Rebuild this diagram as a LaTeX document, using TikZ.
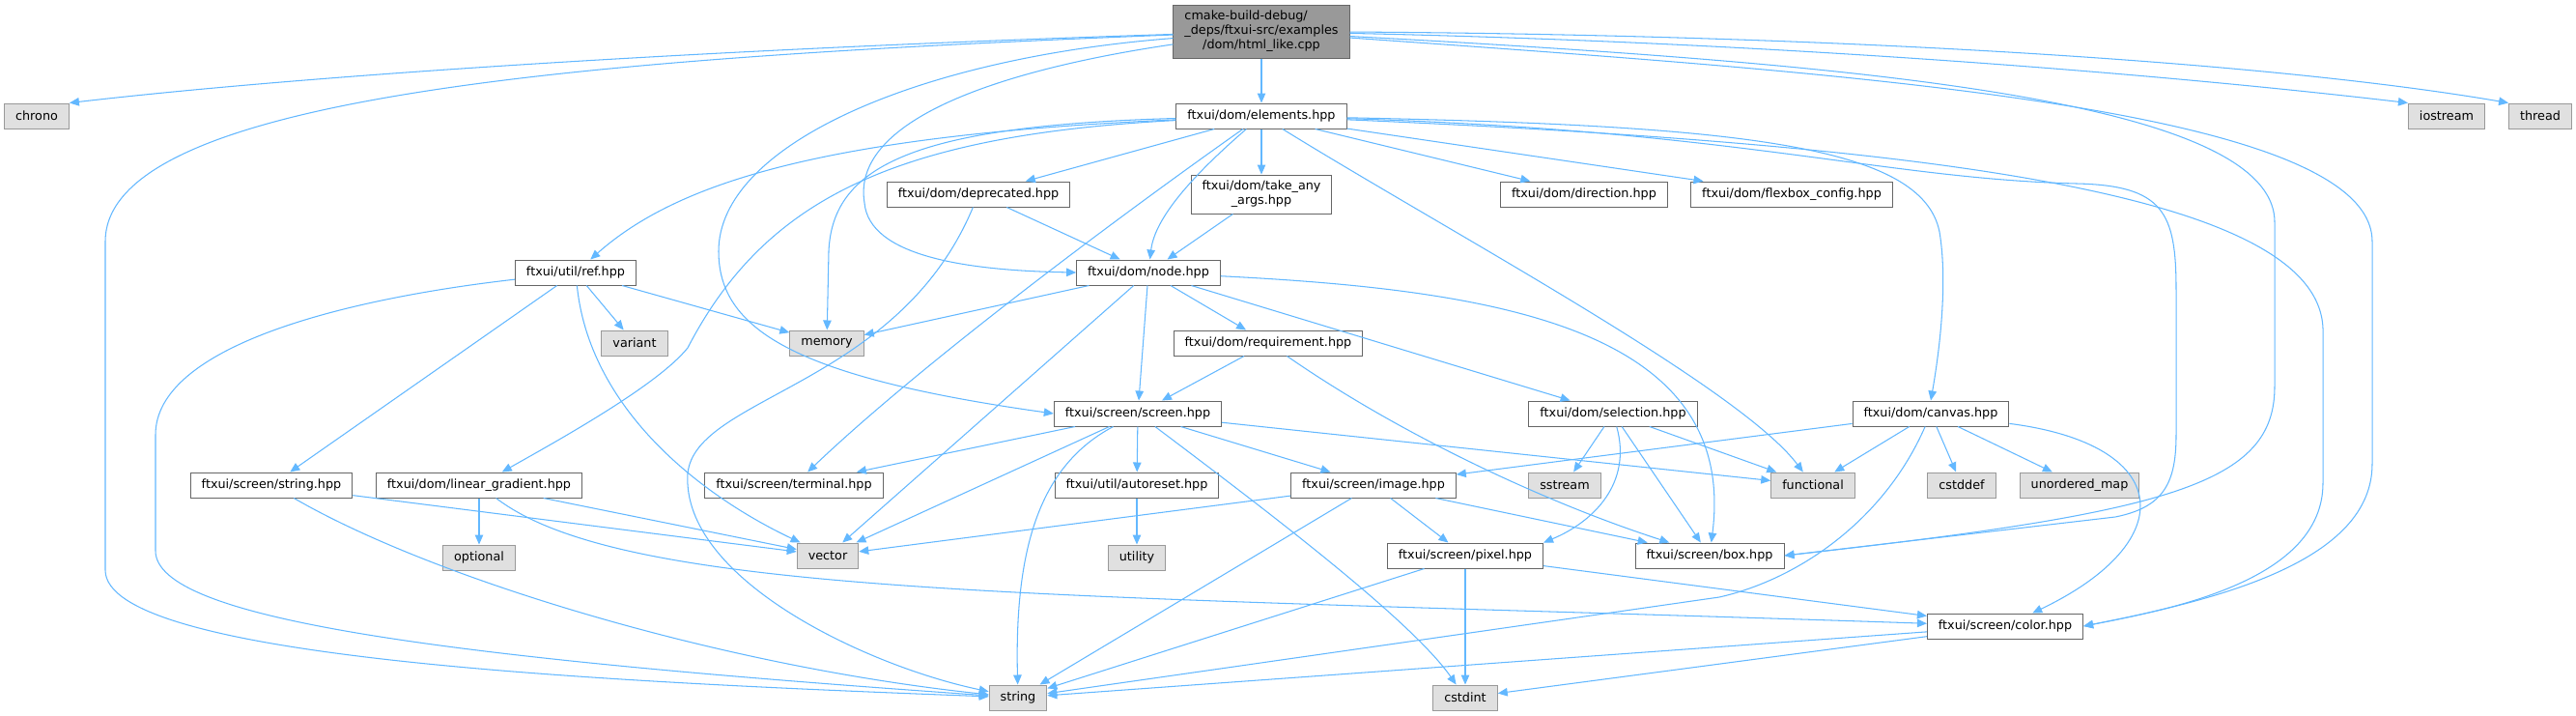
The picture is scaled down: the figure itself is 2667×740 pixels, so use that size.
\documentclass[tikz,border=0pt]{standalone}
\usepackage{fontspec}
\setmainfont{DejaVu Sans}
\usepackage{xcolor}
\usepackage{tikz}
\usetikzlibrary{positioning,arrows.meta}
\definecolor{edgeblue}{HTML}{63B8FF}
\definecolor{frame}{HTML}{666666}
\definecolor{sysline}{HTML}{999999}
\definecolor{sysfill}{HTML}{E0E0E0}
\definecolor{mainfill}{HTML}{999999}

\begin{document}
\begin{tikzpicture}[x=1pt,y=-1pt,font=\fontsize{12.77}{15}\selectfont,
inc/.style={draw=frame,line width=1pt,fill=white,align=center,minimum height=26pt,inner xsep=11.5pt,inner ysep=4pt},
sys/.style={inc,draw=sysline,fill=sysfill},
hdr/.style={inc,fill=mainfill,minimum height=55pt},
arr/.style={-{Triangle[length=10pt,width=8.5pt]},draw=edgeblue,line width=1.05pt}]
\path[use as bounding box,fill=white] (0,0) rectangle (2667,740);
\node[hdr] (main) at (1306,32.5) {\rlap{cmake-build-debug/}\phantom{\_deps/ftxui-src/examples}\\\_deps/ftxui-src/examples\\/dom/html\_like.cpp};
\node[sys] (chrono) at (38,120) {chrono};
\node[inc] (elements) at (1306,120) {ftxui/dom/elements.hpp};
\node[sys] (iostream) at (2533,120) {iostream};
\node[sys,right=24pt of iostream] (thread) {thread};
\node[inc] (deprecated) at (1013,201) {ftxui/dom/deprecated.hpp};
\node[inc,minimum height=40pt] (takeany) at (1306,201) {ftxui/dom/take\_any\\\_args.hpp};
\node[inc] (direction) at (1640,201) {ftxui/dom/direction.hpp};
\node[inc] (flexbox) at (1855,201) {ftxui/dom/flexbox\_config.hpp};
\node[inc] (refhpp) at (596,282) {ftxui/util/ref.hpp};
\node[inc] (nodehpp) at (1189,282) {ftxui/dom/node.hpp};
\node[sys] (variant) at (657,355) {variant};
\node[sys] (memory) at (856,355) {memory};
\node[inc] (requirement) at (1313,355) {ftxui/dom/requirement.hpp};
\node[inc] (screenhpp) at (1178,428) {ftxui/screen/screen.hpp};
\node[inc] (selection) at (1670,428) {ftxui/dom/selection.hpp};
\node[inc] (canvas) at (1999,428) {ftxui/dom/canvas.hpp};
\node[inc] (stringhpp) at (281,502) {ftxui/screen/string.hpp};
\node[inc] (gradient) at (496,502) {ftxui/dom/linear\_gradient.hpp};
\node[inc] (terminal) at (822,502) {ftxui/screen/terminal.hpp};
\node[inc] (autoreset) at (1177,502) {ftxui/util/autoreset.hpp};
\node[inc] (image) at (1422,502) {ftxui/screen/image.hpp};
\node[sys] (sstream) at (1620,502) {sstream};
\node[sys] (functional) at (1877,502) {functional};
\node[sys] (cstddef) at (2031,502) {cstddef};
\node[sys] (umap) at (2153,502) {unordered\_map};
\node[sys,below=48pt of gradient] (optional) {optional};
\node[sys] (vector) at (857,575) {vector};
\node[sys,below=48pt of autoreset] (utility) {utility};
\node[inc] (pixel) at (1517,575) {ftxui/screen/pixel.hpp};
\node[inc] (boxhpp) at (1770,575) {ftxui/screen/box.hpp};
\node[inc] (colorhpp) at (2076,648) {ftxui/screen/color.hpp};
\node[sys] (string) at (1054,722) {string};
\node[sys,below=120pt of pixel] (cstdint) {cstdint};
\draw[arr] (main) .. controls (700,52) and (300,80) .. (chrono.north east);
\draw[arr] (main) .. controls (600,60) and (109,100) .. (109,250) -- (109,590) .. controls (109,680) and (600,705) .. (string);
\draw[arr] (main) -- (elements);
\draw[arr] (main) .. controls (1850,44) and (2250,78) .. (iostream.north west);
\draw[arr] (main) .. controls (1900,36) and (2350,64) .. (thread.north west);
\draw[arr] (main) .. controls (1050,70) and (880,120) .. (895,210) .. controls (900,265) and (1000,280) .. (nodehpp.west);
\draw[arr] (main) .. controls (950,60) and (744,150) .. (744,260) .. controls (744,340) and (820,390) .. (screenhpp.west);
\draw[arr] (main) .. controls (1900,65) and (2355,100) .. (2355,230) -- (2355,400) .. controls (2355,500) and (2250,530) .. (boxhpp.east);
\draw[arr] (main) .. controls (1900,75) and (2456,110) .. (2456,250) -- (2456,480) .. controls (2456,580) and (2300,620) .. (colorhpp.east);
\draw[arr] (elements) -- (takeany);
\draw[arr] (elements) -- (deprecated);
\draw[arr] (elements) .. controls (1225,190) and (1195,230) .. (nodehpp);
\draw[arr] (elements) -- (direction);
\draw[arr] (elements) -- (flexbox);
\draw[arr] (elements) .. controls (1800,130) and (1990,150) .. (2008,240) .. controls (2018,300) and (2005,380) .. (canvas.north);
\draw[arr] (elements) .. controls (1500,240) and (1800,400) .. (functional);
\draw[arr] (elements) .. controls (1800,135) and (1950,185) .. (2150,190) .. controls (2240,192) and (2253,220) .. (2253,300) -- (2253,450) .. controls (2253,500) and (2240,525) .. (2190,535) -- (boxhpp.east);
\draw[arr] (elements) .. controls (2000,150) and (2400,200) .. (2405,340) -- (2405,500) .. controls (2405,600) and (2250,630) .. (colorhpp.east);
\draw[arr] (elements) .. controls (950,130) and (862,170) .. (858,260) -- (memory);
\draw[arr] (elements) .. controls (850,140) and (700,190) .. (refhpp);
\draw[arr] (elements) .. controls (920,140) and (790,210) .. (712,360) .. controls (680,400) and (570,460) .. (gradient);
\draw[arr] (elements) .. controls (1150,230) and (950,380) .. (terminal);
\draw[arr] (takeany) -- (nodehpp);
\draw[arr] (deprecated) -- (nodehpp);
\draw[arr] (deprecated) .. controls (930,400) and (720,410) .. (712,490) .. controls (705,600) and (900,690) .. (string);
\draw[arr] (nodehpp) -- (memory);
\draw[arr] (nodehpp) -- (vector);
\draw[arr] (nodehpp) -- (screenhpp);
\draw[arr] (nodehpp) -- (requirement);
\draw[arr] (nodehpp) -- (selection);
\draw[arr] (nodehpp) .. controls (1550,300) and (1800,340) .. (boxhpp);
\draw[arr] (requirement) -- (screenhpp);
\draw[arr] (requirement) .. controls (1450,450) and (1600,520) .. (boxhpp);
\draw[arr] (refhpp) .. controls (350,310) and (161,360) .. (161,450) -- (161,570) .. controls (161,640) and (450,680) .. (string);
\draw[arr] (refhpp) -- (stringhpp);
\draw[arr] (refhpp) .. controls (610,420) and (720,510) .. (vector);
\draw[arr] (refhpp) -- (variant);
\draw[arr] (refhpp) -- (memory);
\draw[arr] (stringhpp) -- (vector);
\draw[arr] (stringhpp) .. controls (450,600) and (750,690) .. (string);
\draw[arr] (gradient) -- (optional);
\draw[arr] (gradient) -- (vector);
\draw[arr] (gradient) .. controls (650,620) and (1100,615) .. (colorhpp);
\draw[arr] (screenhpp) -- (terminal);
\draw[arr] (screenhpp) -- (vector);
\draw[arr] (screenhpp) .. controls (1080,480) and (1050,560) .. (string);
\draw[arr] (screenhpp) -- (autoreset);
\draw[arr] (screenhpp) .. controls (1300,520) and (1460,640) .. (cstdint);
\draw[arr] (screenhpp) -- (image);
\draw[arr] (screenhpp) -- (functional);
\draw[arr] (autoreset) -- (utility);
\draw[arr] (selection) -- (sstream);
\draw[arr] (selection) .. controls (1690,500) and (1650,540) .. (pixel.north east);
\draw[arr] (selection) -- (boxhpp);
\draw[arr] (selection) -- (functional);
\draw[arr] (canvas) -- (image);
\draw[arr] (canvas) -- (functional);
\draw[arr] (canvas) .. controls (1950,540) and (1860,600) .. (1780,618) -- (string);
\draw[arr] (canvas) -- (cstddef);
\draw[arr] (canvas) -- (umap);
\draw[arr] (canvas) .. controls (2250,460) and (2260,560) .. (colorhpp);
\draw[arr] (image) -- (vector);
\draw[arr] (image) -- (string);
\draw[arr] (image) -- (pixel);
\draw[arr] (image) -- (boxhpp);
\draw[arr] (pixel) -- (string);
\draw[arr] (pixel) -- (cstdint);
\draw[arr] (pixel) -- (colorhpp);
\draw[arr] (colorhpp) -- (string);
\draw[arr] (colorhpp) -- (cstdint);
\end{tikzpicture}
\end{document}
